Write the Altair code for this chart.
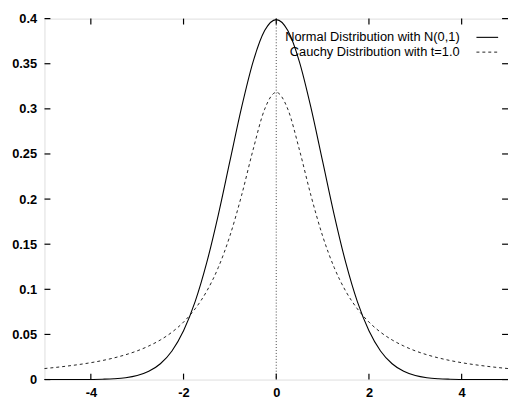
import altair as alt
import pandas as pd

x_vals = [-5.0, -4.75, -4.5, -4.25, -4.0, -3.75, -3.5, -3.25, -3.0, -2.75, -2.5, -2.25,
          -2.0, -1.75, -1.5, -1.25, -1.0, -0.75, -0.5, -0.25, 0.0, 0.25, 0.5, 0.75,
          1.0, 1.25, 1.5, 1.75, 2.0, 2.25, 2.5, 2.75, 3.0, 3.25, 3.5, 3.75, 4.0,
          4.25, 4.5, 4.75, 5.0]
normal_vals = [0.0, 0.0, 0.0, 0.0, 0.0001, 0.0004, 0.0009, 0.0020, 0.0044, 0.0091, 0.0175, 0.0317,
               0.0540, 0.0863, 0.1295, 0.1826, 0.2420, 0.3011, 0.3521, 0.3867, 0.3989, 0.3867, 0.3521, 0.3011,
               0.2420, 0.1826, 0.1295, 0.0863, 0.0540, 0.0317, 0.0175, 0.0091, 0.0044, 0.0020, 0.0009, 0.0004, 0.0001,
               0.0, 0.0, 0.0, 0.0]
cauchy_vals = [0.0122, 0.0135, 0.0150, 0.0167, 0.0187, 0.0211, 0.0240, 0.0275, 0.0318, 0.0372, 0.0439, 0.0525,
               0.0637, 0.0784, 0.0979, 0.1242, 0.1592, 0.2037, 0.2546, 0.2996, 0.3183, 0.2996, 0.2546, 0.2037,
               0.1592, 0.1242, 0.0979, 0.0784, 0.0637, 0.0525, 0.0439, 0.0372, 0.0318, 0.0275, 0.0240, 0.0211, 0.0187,
               0.0167, 0.0150, 0.0135, 0.0122]
x_ticks = [-4, -2, 0, 2, 4]
y_ticks = [0, 0.05, 0.1, 0.15, 0.2, 0.25, 0.3, 0.35, 0.4]
legend_labels = ["Normal Distribution with N(0,1)", "Cauchy Distribution with t=1.0"]

W, H = 470, 366
FONT = "Liberation Sans"

df = pd.DataFrame({"x": x_vals, "normal": normal_vals, "cauchy": cauchy_vals})
xs = alt.Scale(domain=[-5, 5], nice=False)
ys = alt.Scale(domain=[0, 0.4], nice=False)

xaxis = alt.Axis(values=x_ticks, ticks=False, domain=False, grid=False, title=None,
                 labelFont=FONT, labelFontSize=13, labelColor="black", labelPadding=7,
                 labelFontWeight="bold", labelExpr="'' + datum.value")
yaxis = alt.Axis(values=y_ticks, ticks=False, domain=False, grid=False, title=None,
                 labelFont=FONT, labelFontSize=13, labelColor="black", labelPadding=8,
                 labelFontWeight="bold", labelExpr="'' + datum.value")

base = alt.Chart(df)
normal = base.mark_line(color="black", strokeWidth=1.1, interpolate="monotone").encode(
    x=alt.X("x:Q", scale=xs, axis=xaxis), y=alt.Y("normal:Q", scale=ys, axis=yaxis))
cauchy = base.mark_line(color="#222", strokeWidth=1, strokeDash=[3, 3], interpolate="monotone").encode(
    x=alt.X("x:Q", scale=xs), y=alt.Y("cauchy:Q", scale=ys))

zero_df = pd.DataFrame({"x": [0.0]})
zero = alt.Chart(zero_df).mark_rule(color="#444", strokeWidth=1, strokeDash=[1, 2]).encode(
    x=alt.X("x:Q", scale=xs), y=alt.value(0), y2=alt.value(H))

xt = pd.DataFrame({"x": x_ticks})
yt = pd.DataFrame({"y": y_ticks})
tb = alt.Chart(xt).mark_rule(color="black", strokeWidth=1.2).encode(
    x=alt.X("x:Q", scale=xs), y=alt.value(H), y2=alt.value(H - 6))
tt = alt.Chart(xt).mark_rule(color="black", strokeWidth=1.2).encode(
    x=alt.X("x:Q", scale=xs), y=alt.value(0), y2=alt.value(6))
tl = alt.Chart(yt).mark_rule(color="black", strokeWidth=1.2).encode(
    y=alt.Y("y:Q", scale=ys), x=alt.value(0), x2=alt.value(6))
tr = alt.Chart(yt).mark_rule(color="black", strokeWidth=1.2).encode(
    y=alt.Y("y:Q", scale=ys), x=alt.value(W), x2=alt.value(W - 6))

leg1_t = alt.Chart(pd.DataFrame({"t": [legend_labels[0]]})).mark_text(
    align="right", baseline="middle", font=FONT, fontSize=13, color="black").encode(
    text="t:N", x=alt.value(421), y=alt.value(19))
leg2_t = alt.Chart(pd.DataFrame({"t": [legend_labels[1]]})).mark_text(
    align="right", baseline="middle", font=FONT, fontSize=13, color="black").encode(
    text="t:N", x=alt.value(421), y=alt.value(34))
leg1_l = alt.Chart(pd.DataFrame({"t": [legend_labels[0]]})).mark_rule(color="black", strokeWidth=1.1).encode(
    x=alt.value(438), x2=alt.value(460), y=alt.value(19))
leg2_l = alt.Chart(pd.DataFrame({"t": [legend_labels[1]]})).mark_rule(color="#222", strokeWidth=1, strokeDash=[3, 3]).encode(
    x=alt.value(438), x2=alt.value(460), y=alt.value(34))

chart = alt.layer(zero, cauchy, normal, tb, tt, tl, tr, leg1_t, leg2_t, leg1_l, leg2_l).properties(
    width=W, height=H,
    autosize=alt.AutoSizeParams(type="none"),
    padding={"left": 37, "top": 8, "right": 0, "bottom": 20},
).configure_view(stroke="black", strokeWidth=1.5).configure(background="white")

chart.save("out.html", embed_options={"renderer": "svg", "actions": False})
